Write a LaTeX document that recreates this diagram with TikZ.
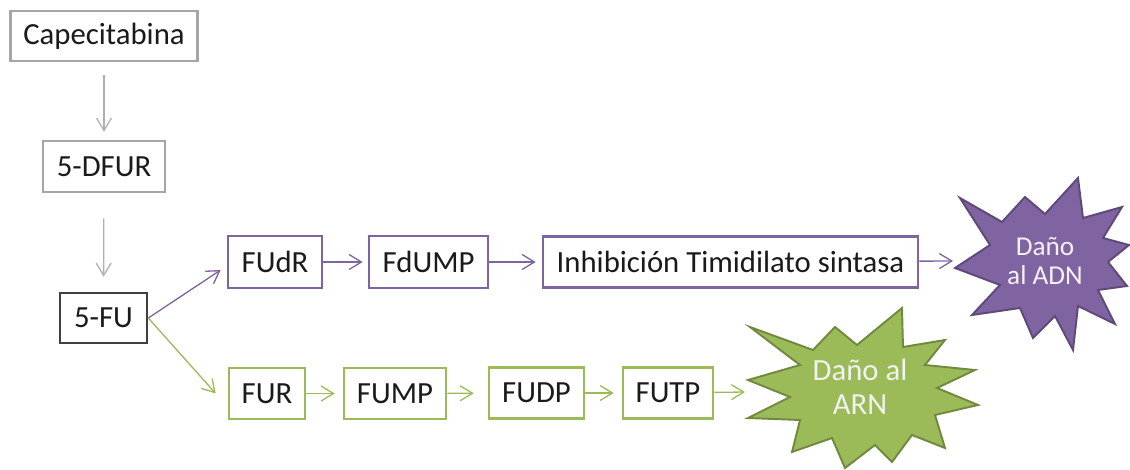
\documentclass[tikz,border=0pt]{standalone}
\usepackage{fontspec}
\setmainfont{Carlito}
\usetikzlibrary{arrows.meta}
\definecolor{graybox}{HTML}{A6A6A6}
\definecolor{darkbox}{HTML}{404040}
\definecolor{grayline}{HTML}{B0B0B0}
\definecolor{purp}{HTML}{8064A2}
\definecolor{purpdark}{HTML}{5E4A78}
\definecolor{grn}{HTML}{9BBB59}
\definecolor{grndark}{HTML}{71893F}
\definecolor{txt}{HTML}{1A1A1A}
\begin{document}
\begin{tikzpicture}[x=0.02cm,y=-0.02cm,
  box/.style={draw, line width=1.5pt, fill=white, inner sep=0pt,
    font=\fontsize{17.5}{20}\selectfont, text=txt},
  arr/.style={line width=0.75pt, -{Straight Barb[length=7pt,width=8.5pt]}},
  garrow/.style={arr, draw=grayline},
  parrow/.style={arr, draw=purp},
  gnarrow/.style={arr, draw=grn},
  startext/.style={align=center, text=white!95!black, inner sep=0pt}]
\useasboundingbox (0,0) rectangle (1130,470);

% boxes
\node[box, draw=graybox, minimum width=3.74cm, minimum height=1.0cm] (cap) at (104,36) {Capecitabina};
\node[box, draw=graybox, minimum width=2.44cm, minimum height=1.02cm] (dfur) at (104,166.5) {5-DFUR};
\node[box, draw=darkbox, minimum width=1.74cm, minimum height=1.0cm] (fu) at (103.5,318) {5-FU};
\node[box, draw=purp, minimum width=1.88cm, minimum height=1.04cm] (fudr) at (275,262) {FUdR};
\node[box, draw=purp, minimum width=2.38cm, minimum height=1.04cm] (fdump) at (428.5,262) {FdUMP};
\node[box, draw=purp, minimum width=7.5cm, minimum height=1.02cm] (inhib) at (730.5,262) {Inhibición Timidilato sintasa};
\node[box, draw=grn, minimum width=1.52cm, minimum height=1.02cm] (fur) at (267,393.5) {FUR};
\node[box, draw=grn, minimum width=2.04cm, minimum height=1.02cm] (fump) at (395,393.5) {FUMP};
\node[box, draw=grn, minimum width=1.9cm, minimum height=1.02cm] (fudp) at (536.5,393) {FUDP};
\node[box, draw=grn, minimum width=1.8cm, minimum height=1.02cm] (futp) at (668,393) {FUTP};

% stars
\filldraw[fill=purp, draw=purpdark, line width=1.1pt, line join=miter]
  (960,198) -- (1002,222) -- (1025,197) -- (1045,214) -- (1078,178) -- (1083,218)
  -- (1122,207) -- (1103,238) -- (1129,245) -- (1108,262) -- (1127,286) -- (1098,290)
  -- (1115,324) -- (1078,306) -- (1073,350) -- (1055,316) -- (1033,338) -- (1020,308)
  -- (972,315) -- (1000,285) -- (955,268) -- (990,245) -- cycle;
\filldraw[fill=grn, draw=grndark, line width=1.1pt, line join=miter]
  (750,327) -- (813,350) -- (835,327) -- (857,345) -- (902,308) -- (903,347)
  -- (945,340) -- (925,365) -- (975,370) -- (937,388) -- (978,405) -- (935,415)
  -- (945,448) -- (912,435) -- (892,462) -- (875,445) -- (845,468) -- (832,438)
  -- (792,452) -- (800,420) -- (748,418) -- (790,397) -- (748,380) -- (800,365) -- cycle;
\node[startext, font=\fontsize{15.5}{16.5}\selectfont] (adn) at (1045,261) {Daño\\al ADN};
\node[startext, font=\fontsize{17.5}{19}\selectfont] (arn) at (860,387) {Daño al\\ARN};
\coordinate (adnL) at (953,261);
\coordinate (arnL) at (745,392);

% connectors
\draw[garrow, shorten <=0.26cm, shorten >=0.16cm] (cap) -- (dfur);
\draw[garrow, shorten <=0.5cm, shorten >=0.3cm] (dfur) -- (fu);
\draw[parrow] (fu.east) -- ([xshift=-0.12cm,yshift=-0.16cm]fudr.west);
\draw[gnarrow] (fu.east) -- ([xshift=-0.24cm]fur.west);
\draw[parrow, shorten >=0.1cm] (fudr) -- (fdump);
\draw[parrow, shorten >=0.12cm] (fdump) -- (inhib);
\draw[parrow] (inhib) -- (adnL);
\draw[gnarrow, shorten >=0.16cm] (fur) -- (fump);
\draw[gnarrow, shorten >=0.28cm] (fump) -- (fudp);
\draw[gnarrow, shorten >=0.16cm] (fudp) -- (futp);
\draw[gnarrow] (futp) -- (arnL);
\end{tikzpicture}
\end{document}
